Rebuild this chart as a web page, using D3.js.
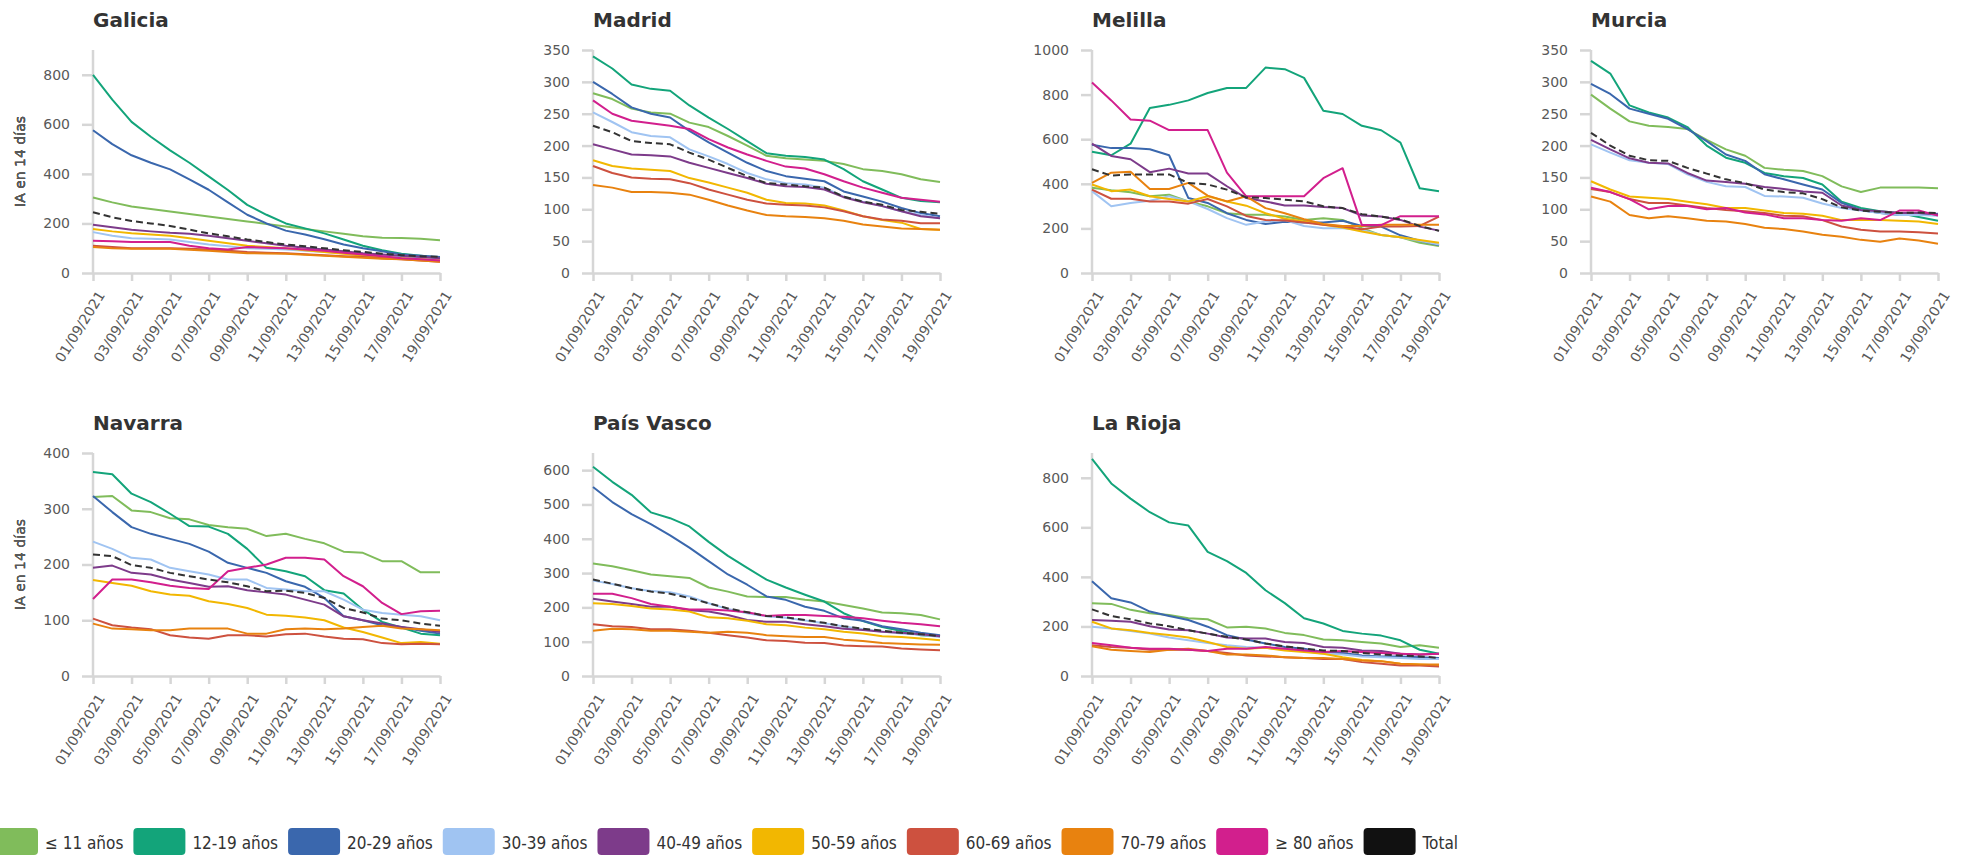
<!DOCTYPE html>
<html>
<head>
<meta charset="utf-8">
<script src="https://cdn.jsdelivr.net/npm/d3@7"></script>
<style>
  body { margin: 0; background: #fff; }
  svg { display: block; }
</style>
</head>
<body>
<div id="viz"></div>
<script>
// age groups, legend order
const groups = ["≤ 11 años", "12-19 años", "20-29 años", "30-39 años", "40-49 años",
                "50-59 años", "60-69 años", "70-79 años", "≥ 80 años", "Total"];
const colors = ["#80bc5b", "#13a47a", "#3a67ad", "#a0c4f2", "#7d3b8a",
                "#f2b701", "#cd513f", "#e8820f", "#d21f8d", "#111111"];

const dates = ["01/09/2021", "02/09/2021", "03/09/2021", "04/09/2021", "05/09/2021",
               "06/09/2021", "07/09/2021", "08/09/2021", "09/09/2021", "10/09/2021",
               "11/09/2021", "12/09/2021", "13/09/2021", "14/09/2021", "15/09/2021",
               "16/09/2021", "17/09/2021", "18/09/2021", "19/09/2021"];

const regions = ["Galicia", "Madrid", "Melilla", "Murcia", "Navarra", "País Vasco", "La Rioja"];
const yMax  = [900, 350, 1000, 350, 400, 650, 900];
const yStep = [200, 50, 200, 50, 100, 100, 200];

// one row per age group (same order as groups), 19 days each
const galicia = [
  [305, 285, 268, 258, 248, 238, 228, 218, 208, 198, 188, 178, 168, 158, 148, 142, 141, 138, 132],
  [800, 700, 610, 550, 495, 445, 390, 335, 275, 235, 200, 180, 160, 135, 110, 92, 78, 70, 62],
  [576, 520, 475, 445, 418, 378, 336, 285, 235, 200, 171, 155, 136, 115, 100, 88, 75, 70, 65],
  [165, 150, 140, 138, 135, 125, 115, 108, 100, 98, 95, 90, 85, 80, 75, 70, 65, 60, 55],
  [195, 185, 175, 168, 162, 158, 150, 140, 130, 120, 110, 102, 95, 88, 80, 75, 70, 65, 60],
  [178, 168, 160, 155, 150, 140, 130, 120, 110, 105, 100, 92, 85, 78, 70, 65, 60, 55, 50],
  [110, 105, 100, 100, 100, 98, 95, 90, 85, 82, 80, 76, 72, 68, 65, 60, 55, 50, 45],
  [105, 100, 98, 98, 98, 94, 90, 85, 80, 79, 78, 74, 70, 66, 62, 58, 55, 50, 45],
  [130, 128, 125, 125, 125, 110, 100, 95, 105, 102, 100, 95, 90, 82, 75, 68, 60, 55, 50],
  [245, 225, 210, 200, 190, 175, 160, 148, 135, 125, 115, 108, 100, 92, 85, 78, 72, 68, 65]
];

const madrid = [
  [282, 273, 258, 252, 250, 236, 229, 215, 200, 184, 180, 178, 176, 171, 163, 160, 155, 147, 143],
  [340, 321, 296, 289, 286, 263, 244, 226, 207, 188, 184, 182, 178, 163, 144, 131, 118, 113, 111],
  [300, 281, 260, 250, 244, 223, 205, 189, 173, 160, 152, 148, 144, 128, 120, 112, 102, 94, 89],
  [252, 237, 221, 215, 213, 194, 183, 171, 157, 147, 141, 139, 134, 120, 112, 105, 97, 91, 86],
  [202, 194, 186, 185, 183, 173, 165, 157, 149, 140, 136, 135, 131, 119, 111, 105, 97, 89, 86],
  [177, 168, 164, 162, 160, 149, 142, 134, 126, 115, 110, 109, 106, 98, 89, 83, 79, 69, 68],
  [168, 157, 150, 148, 147, 141, 131, 123, 115, 109, 107, 106, 103, 97, 89, 84, 82, 78, 78],
  [138, 134, 127, 127, 126, 123, 115, 106, 98, 91, 89, 88, 86, 82, 76, 73, 70, 69, 68],
  [271, 250, 239, 235, 231, 226, 210, 197, 186, 176, 167, 164, 155, 144, 134, 126, 118, 115, 112],
  [231, 221, 207, 204, 202, 189, 178, 165, 152, 141, 139, 136, 134, 120, 112, 107, 99, 96, 93]
];

const melilla = [
  [382, 371, 362, 344, 351, 321, 299, 268, 261, 261, 253, 238, 246, 238, 201, 170, 160, 136, 121],
  [544, 528, 580, 740, 754, 774, 807, 830, 830, 921, 914, 875, 728, 713, 660, 640, 585, 380, 367],
  [575, 560, 560, 555, 528, 336, 314, 268, 238, 220, 230, 226, 226, 234, 211, 208, 169, 145, 125],
  [367, 299, 314, 324, 344, 321, 287, 246, 216, 231, 238, 211, 201, 201, 193, 170, 160, 145, 128],
  [580, 525, 510, 452, 468, 446, 446, 389, 336, 321, 303, 303, 296, 291, 258, 253, 238, 208, 190],
  [397, 367, 374, 344, 332, 321, 344, 321, 302, 268, 243, 231, 216, 204, 186, 170, 160, 148, 136],
  [374, 333, 333, 321, 321, 311, 332, 299, 256, 238, 235, 226, 216, 208, 196, 208, 208, 211, 253],
  [404, 450, 454, 377, 377, 404, 347, 321, 344, 291, 268, 241, 220, 211, 211, 216, 216, 216, 216],
  [854, 774, 688, 683, 641, 641, 641, 450, 344, 344, 344, 344, 425, 470, 215, 215, 255, 255, 255],
  [465, 437, 442, 442, 442, 404, 397, 374, 339, 336, 329, 321, 299, 291, 264, 253, 241, 211, 189]
];

const murcia = [
  [280, 258, 238, 231, 229, 226, 209, 194, 184, 165, 162, 160, 152, 136, 127, 134, 134, 134, 133],
  [333, 313, 263, 252, 244, 229, 200, 181, 173, 157, 152, 149, 139, 112, 102, 97, 94, 88, 82],
  [297, 281, 258, 250, 242, 226, 207, 186, 176, 155, 147, 139, 131, 110, 99, 94, 91, 91, 93],
  [202, 189, 177, 173, 171, 155, 143, 136, 135, 121, 120, 118, 109, 102, 98, 94, 91, 91, 90],
  [209, 194, 180, 173, 172, 157, 145, 143, 140, 135, 132, 128, 126, 106, 99, 97, 94, 94, 92],
  [144, 131, 120, 118, 116, 112, 108, 102, 102, 98, 94, 93, 90, 83, 83, 83, 82, 81, 77],
  [132, 127, 116, 110, 110, 106, 102, 99, 97, 94, 90, 89, 83, 73, 68, 65, 65, 64, 62],
  [120, 112, 91, 86, 89, 86, 82, 81, 77, 71, 69, 65, 60, 57, 52, 49, 54, 51, 46],
  [134, 127, 116, 100, 105, 105, 100, 102, 95, 92, 86, 86, 83, 82, 86, 83, 98, 98, 90],
  [220, 200, 184, 177, 176, 165, 156, 147, 141, 131, 127, 125, 116, 103, 98, 96, 94, 95, 94]
];

const navarra = [
  [321, 323, 297, 294, 283, 281, 271, 267, 264, 251, 255, 246, 238, 223, 221, 206, 206, 186, 186],
  [366, 362, 327, 312, 291, 269, 268, 255, 228, 194, 188, 179, 154, 148, 119, 97, 87, 76, 73],
  [323, 294, 267, 255, 246, 237, 223, 203, 194, 185, 170, 160, 140, 107, 100, 91, 88, 81, 76],
  [241, 228, 212, 209, 194, 188, 182, 173, 173, 158, 155, 152, 152, 137, 119, 113, 110, 107, 100],
  [194, 198, 185, 182, 173, 167, 160, 161, 154, 150, 146, 137, 128, 107, 100, 94, 88, 84, 79],
  [172, 167, 162, 152, 146, 144, 134, 129, 122, 110, 108, 105, 100, 87, 79, 69, 59, 61, 58],
  [103, 91, 87, 84, 73, 69, 67, 73, 73, 71, 75, 76, 71, 67, 66, 59, 57, 58, 57],
  [94, 85, 84, 82, 82, 85, 85, 85, 76, 76, 84, 85, 84, 85, 88, 90, 85, 84, 82],
  [138, 173, 173, 168, 162, 158, 156, 188, 194, 200, 212, 212, 209, 179, 161, 131, 111, 116, 117],
  [218, 215, 199, 194, 185, 179, 173, 168, 161, 152, 153, 149, 140, 122, 114, 103, 100, 94, 90]
];

const paisVasco = [
  [328, 320, 308, 296, 291, 286, 258, 246, 232, 230, 230, 222, 217, 207, 197, 185, 183, 178, 165],
  [610, 566, 528, 477, 460, 436, 391, 350, 315, 281, 258, 237, 217, 183, 160, 143, 131, 119, 116],
  [551, 507, 472, 443, 410, 374, 335, 296, 266, 232, 222, 202, 190, 168, 161, 145, 136, 126, 119],
  [278, 268, 256, 248, 244, 232, 212, 195, 183, 174, 170, 162, 154, 144, 136, 130, 124, 120, 114],
  [225, 217, 210, 202, 202, 192, 188, 178, 163, 158, 158, 151, 145, 138, 134, 129, 126, 122, 116],
  [212, 210, 204, 197, 194, 188, 171, 168, 161, 151, 148, 141, 136, 129, 124, 116, 114, 109, 104],
  [151, 145, 143, 136, 136, 132, 126, 119, 112, 104, 102, 97, 96, 89, 87, 86, 80, 77, 75],
  [132, 138, 136, 132, 132, 129, 126, 129, 126, 119, 116, 114, 114, 106, 102, 96, 94, 92, 91],
  [240, 240, 227, 210, 202, 194, 194, 191, 186, 175, 178, 178, 175, 173, 168, 161, 155, 151, 145],
  [281, 269, 256, 246, 240, 227, 212, 197, 186, 175, 171, 163, 155, 145, 138, 132, 126, 122, 116]
];

const laRioja = [
  [294, 291, 267, 253, 246, 233, 229, 196, 199, 192, 174, 165, 147, 144, 137, 131, 117, 124, 114],
  [876, 777, 716, 661, 620, 607, 501, 464, 416, 346, 294, 233, 212, 182, 171, 163, 144, 106, 90],
  [382, 314, 297, 260, 242, 226, 199, 165, 147, 131, 117, 110, 97, 93, 83, 79, 79, 76, 73],
  [199, 192, 182, 171, 155, 144, 133, 124, 117, 114, 106, 101, 90, 87, 79, 76, 73, 69, 69],
  [226, 223, 219, 201, 188, 185, 171, 155, 151, 151, 137, 133, 117, 114, 103, 101, 90, 87, 90],
  [219, 192, 185, 174, 165, 155, 137, 117, 110, 114, 103, 97, 90, 76, 65, 60, 49, 46, 42],
  [124, 117, 114, 106, 106, 106, 101, 93, 83, 79, 76, 73, 69, 69, 56, 49, 42, 42, 38],
  [120, 106, 101, 97, 106, 110, 101, 87, 87, 83, 76, 73, 73, 69, 63, 60, 49, 46, 46],
  [133, 124, 114, 110, 110, 106, 101, 110, 110, 117, 110, 103, 97, 101, 97, 93, 90, 87, 90],
  [269, 242, 229, 212, 201, 185, 171, 158, 147, 131, 120, 110, 103, 101, 93, 87, 83, 79, 73]
];

const regionData = [galicia, madrid, melilla, murcia, navarra, paisVasco, laRioja];

// ---- layout ----
const W = 1963, H = 856;
const svg = d3.select("#viz").append("svg").attr("width", W).attr("height", H);

const colX = [93, 593, 1092, 1591];
const rowTop = [50, 453];
const plotW = 347, plotH = 223;
const axisColor = "#d6d6d6";
const textColor = "#595959";

regions.forEach((name, i) => {
  const col = i < 4 ? i : i - 4;
  const row = i < 4 ? 0 : 1;
  const g = svg.append("g").attr("transform", `translate(${colX[col]},${rowTop[row]})`);

  const x = d3.scaleLinear().domain([0, dates.length - 1]).range([0, plotW]);
  const y = d3.scaleLinear().domain([0, yMax[i]]).range([plotH, 0]);

  // title
  g.append("text")
    .attr("x", 0).attr("y", -23)
    .attr("font-family", "DejaVu Sans, sans-serif")
    .attr("font-weight", 700)
    .attr("font-size", 20)
    .attr("fill", "#333")
    .text(name);

  // y axis
  const yAxis = g.append("g")
    .call(d3.axisLeft(y)
      .tickValues(d3.range(0, yMax[i] + 1, yStep[i]))
      .tickFormat(d3.format("d"))
      .tickSize(11).tickSizeOuter(0).tickPadding(12));

  // x axis
  const xAxis = g.append("g")
    .attr("transform", `translate(0,${plotH})`)
    .call(d3.axisBottom(x)
      .tickValues(d3.range(0, dates.length, 2))
      .tickFormat(d => dates[d])
      .tickSize(8).tickSizeOuter(0));

  [yAxis, xAxis].forEach(ax => {
    ax.selectAll("path, line").attr("stroke", axisColor).attr("stroke-width", 2.5);
    ax.selectAll("text")
      .attr("fill", textColor)
      .attr("font-family", "DejaVu Sans, sans-serif")
      .attr("font-size", 14);
  });
  yAxis.select(".domain").attr("d", `M0,${plotH}V0`);

  xAxis.selectAll("text")
    .attr("x", 0).attr("y", 0).attr("dy", 0)
    .attr("text-anchor", "end")
    .attr("transform", "translate(12,22) rotate(-58)");

  // y label
  g.append("text")
    .attr("transform", `translate(${25 - colX[col]},${plotH / 2}) rotate(-90)`)
    .attr("text-anchor", "middle")
    .attr("font-family", "DejaVu Sans, sans-serif")
    .attr("font-size", 14)
    .attr("fill", textColor)
    .text("IA en 14 días");

  // lines
  const line = d3.line().x((d, j) => x(j)).y(d => y(d));
  regionData[i].forEach((vals, k) => {
    const isTotal = groups[k] === "Total";
    g.append("path")
      .datum(vals)
      .attr("fill", "none")
      .attr("stroke", isTotal ? "#333" : colors[k])
      .attr("stroke-width", 2)
      .attr("stroke-dasharray", isTotal ? "7,4" : null)
      .attr("stroke-linejoin", "round")
      .attr("d", line);
  });
});

// legend (flow layout)
const legend = svg.append("g").attr("transform", "translate(-14,828)");
let lx = 0;
groups.forEach((grp, k) => {
  const item = legend.append("g").attr("transform", `translate(${lx},0)`);
  item.append("rect")
    .attr("width", 52).attr("height", 27).attr("rx", 4)
    .attr("fill", colors[k]);
  const t = item.append("text")
    .attr("x", 59).attr("y", 21)
    .attr("font-family", "DejaVu Sans Condensed, DejaVu Sans, sans-serif")
    .attr("font-stretch", "condensed")
    .attr("font-size", 17)
    .attr("fill", "#333")
    .text(grp);
  lx += 59 + t.node().getComputedTextLength() + 10;
});
</script>
</body>
</html>
